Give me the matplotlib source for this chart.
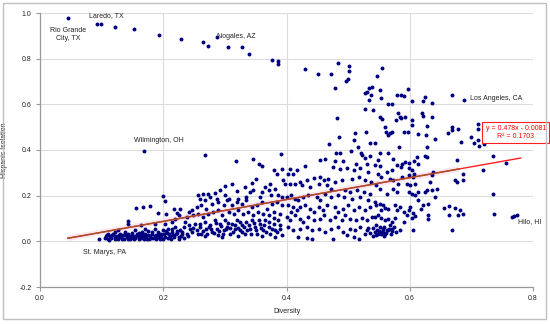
import matplotlib
matplotlib.use("Agg")
import matplotlib.pyplot as plt
from matplotlib.patches import Rectangle

plt.rcParams['font.family'] = ['Liberation Sans', 'DejaVu Sans']

# (diversity, hispanic isolation), grouped by area
top_arc = [(0.046,0.977),(0.092,0.954),(0.099,0.954),(0.122,0.940),(0.153,0.928),(0.193,0.903),
           (0.229,0.884),(0.265,0.871),(0.272,0.855),(0.287,0.893),(0.305,0.851),(0.328,0.851),
           (0.339,0.822),(0.377,0.795),(0.386,0.789),(0.386,0.776)]

mid_outliers = [(0.169,0.394),(0.268,0.380),(0.318,0.350),(0.345,0.359),(0.391,0.381)]

upper_cloud = [(0.430,0.753),(0.451,0.731),(0.472,0.731),(0.484,0.779),(0.501,0.766),(0.501,0.748),
               (0.479,0.670),(0.497,0.700),(0.500,0.713),(0.555,0.757),(0.547,0.722),(0.527,0.648),
               (0.531,0.656),(0.534,0.670),(0.539,0.678),(0.537,0.639),(0.534,0.617),(0.552,0.661),
               (0.553,0.626),(0.527,0.578),(0.540,0.573),(0.579,0.639),(0.586,0.639),(0.591,0.635),
               (0.597,0.665),(0.604,0.613),(0.565,0.600),(0.571,0.600),(0.622,0.613),(0.625,0.630),
               (0.636,0.608),(0.669,0.639),(0.688,0.621),(0.581,0.560),(0.584,0.543),(0.578,0.530),
               (0.586,0.538),(0.592,0.543),(0.552,0.543),(0.555,0.534),(0.482,0.538),(0.620,0.560),
               (0.622,0.547),(0.636,0.543),(0.604,0.530),(0.604,0.508),(0.560,0.499),(0.561,0.481),
               (0.565,0.464),(0.568,0.473),(0.571,0.477),(0.591,0.481),(0.597,0.477),(0.628,0.503),
               (0.613,0.468),(0.626,0.464),(0.628,0.411),(0.641,0.446),(0.485,0.455),(0.469,0.425),
               (0.511,0.473),(0.529,0.477),(0.510,0.442),(0.536,0.429),(0.544,0.429),(0.516,0.411),
               (0.662,0.473),(0.669,0.499),(0.669,0.486),(0.678,0.490),(0.711,0.516),(0.711,0.490),
               (0.699,0.455),(0.704,0.429),(0.711,0.442),(0.712,0.416),(0.720,0.425),(0.683,0.433),
               (0.583,0.411),(0.552,0.389),(0.480,0.385),(0.487,0.385),(0.505,0.394),(0.521,0.385),
               (0.523,0.376)]

far_right = [(0.735,0.372),(0.756,0.341),(0.719,0.311),(0.686,0.293),(0.735,0.206),(0.678,0.114),
             (0.737,0.118),(0.766,0.105),(0.769,0.109),(0.774,0.114)]

right_lower = [(0.565,0.387),(0.549,0.355),(0.544,0.333),(0.552,0.328),(0.573,0.362),(0.579,0.333),
               (0.587,0.340),(0.592,0.347),(0.598,0.343),(0.607,0.352),(0.611,0.369),(0.613,0.340),
               (0.624,0.372),(0.628,0.369),(0.598,0.322),(0.603,0.311),(0.586,0.325),(0.571,0.314),
               (0.563,0.303),(0.676,0.357),(0.549,0.296),(0.554,0.282),(0.568,0.274),(0.573,0.270),
               (0.587,0.282),(0.598,0.289),(0.606,0.282),(0.607,0.293),(0.638,0.303),(0.636,0.292),
               (0.595,0.252),(0.600,0.245),(0.609,0.249),(0.633,0.260),(0.673,0.267),(0.676,0.260),
               (0.687,0.270),(0.546,0.245),(0.552,0.230),(0.563,0.209),(0.573,0.230),(0.579,0.216),
               (0.581,0.252),(0.598,0.216),(0.603,0.209),(0.609,0.201),(0.614,0.216),(0.625,0.216),
               (0.628,0.223),(0.636,0.223),(0.644,0.230),(0.641,0.194),(0.614,0.179),(0.622,0.158),
               (0.619,0.143),(0.630,0.162),(0.655,0.147),(0.663,0.153),(0.673,0.147),(0.682,0.136),
               (0.544,0.172),(0.546,0.158),(0.552,0.165),(0.557,0.158),(0.560,0.147),(0.554,0.136),
               (0.565,0.143),(0.576,0.158),(0.579,0.136),(0.584,0.150),(0.590,0.128),(0.598,0.136),
               (0.600,0.150),(0.606,0.124),(0.595,0.114),(0.603,0.103),(0.609,0.109),(0.590,0.085),
               (0.584,0.051),(0.544,0.106),(0.549,0.114),(0.554,0.103),(0.560,0.092),(0.565,0.099),
               (0.571,0.085),(0.576,0.103),(0.546,0.070),(0.552,0.063),(0.557,0.055),(0.563,0.048),
               (0.568,0.070),(0.571,0.055),(0.544,0.041),(0.549,0.034),(0.554,0.041),(0.560,0.031),
               (0.565,0.048),(0.606,0.051),(0.630,0.099),(0.630,0.114),(0.668,0.051),(0.687,0.121),
               (0.663,0.114),(0.541,0.058),(0.547,0.050),(0.550,0.045),(0.553,0.030),(0.556,0.040),
               (0.558,0.062),(0.562,0.038),(0.566,0.055),(0.569,0.030),(0.572,0.045),(0.575,0.062),
               (0.578,0.040),(0.545,0.028),(0.559,0.024),(0.536,0.035),(0.532,0.060),(0.528,0.030)]

centre = [(0.527,0.366),(0.536,0.372),(0.479,0.352),(0.492,0.352),(0.513,0.340),(0.530,0.340),
          (0.430,0.328),(0.454,0.355),(0.463,0.362),(0.475,0.325),(0.487,0.318),(0.498,0.322),
          (0.509,0.314),(0.519,0.322),(0.533,0.303),(0.406,0.318),(0.417,0.314),(0.402,0.293),
          (0.410,0.296),(0.422,0.260),(0.433,0.267),(0.444,0.279),(0.454,0.282),(0.461,0.270),
          (0.468,0.274),(0.479,0.260),(0.490,0.267),(0.506,0.274),(0.517,0.282),(0.527,0.267),
          (0.537,0.260),(0.398,0.252),(0.406,0.252),(0.414,0.249),(0.425,0.245),(0.438,0.238),
          (0.452,0.252),(0.465,0.245),(0.473,0.230),(0.495,0.226),(0.503,0.216),(0.514,0.223),
          (0.525,0.216),(0.536,0.209),(0.400,0.194),(0.408,0.201),(0.414,0.187),(0.419,0.179),
          (0.427,0.194),(0.435,0.201),(0.449,0.194),(0.454,0.179),(0.463,0.209),(0.473,0.194),
          (0.484,0.201),(0.494,0.194),(0.506,0.187),(0.519,0.194),(0.533,0.179),(0.403,0.158),
          (0.411,0.150),(0.408,0.128),(0.417,0.136),(0.422,0.150),(0.430,0.158),(0.438,0.143),
          (0.444,0.128),(0.452,0.150),(0.460,0.136),(0.465,0.158),(0.479,0.150),(0.484,0.128),
          (0.492,0.143),(0.500,0.158),(0.509,0.136),(0.517,0.150),(0.527,0.136),(0.536,0.150),
          (0.400,0.106),(0.406,0.092),(0.414,0.114),(0.422,0.099),(0.427,0.085),(0.435,0.106),
          (0.444,0.092),(0.454,0.099),(0.461,0.114),(0.471,0.092),(0.479,0.106),(0.490,0.092),
          (0.495,0.114),(0.503,0.099),(0.512,0.092),(0.522,0.103),(0.530,0.092),(0.538,0.106),
          (0.403,0.063),(0.411,0.048),(0.422,0.055),(0.433,0.063),(0.441,0.048),(0.452,0.055),
          (0.463,0.041),(0.473,0.055),(0.484,0.063),(0.492,0.041),(0.503,0.055),(0.511,0.048),
          (0.519,0.063),(0.530,0.048),(0.419,0.019),(0.433,0.016),(0.441,0.012),(0.476,0.012),
          (0.498,0.026),(0.509,0.019),(0.517,0.012),(0.541,0.022)]

centre_left = [(0.350,0.271),(0.344,0.257),(0.355,0.340),(0.361,0.328),(0.380,0.314),(0.384,0.296),
               (0.392,0.318),(0.311,0.249),(0.300,0.242),(0.320,0.220),(0.340,0.216),(0.346,0.226),
               (0.360,0.216),(0.371,0.223),(0.381,0.230),(0.284,0.213),(0.292,0.226),(0.265,0.209),
               (0.273,0.209),(0.257,0.201),(0.395,0.267),(0.373,0.252),(0.365,0.238),(0.333,0.238),
               (0.335,0.194),(0.322,0.187),(0.357,0.194),(0.375,0.201),(0.387,0.201),(0.392,0.194),
               (0.300,0.201),(0.306,0.187),(0.287,0.187),(0.276,0.194),(0.268,0.179),(0.260,0.187),
               (0.241,0.128),(0.246,0.136),(0.254,0.150),(0.262,0.158),(0.270,0.143),(0.279,0.165),
               (0.289,0.172),(0.298,0.158),(0.303,0.179),(0.311,0.158),(0.319,0.172),(0.327,0.165),
               (0.335,0.179),(0.344,0.150),(0.352,0.158),(0.360,0.172),(0.368,0.143),(0.376,0.165),
               (0.384,0.172),(0.392,0.158),(0.238,0.106),(0.249,0.114),(0.257,0.121),(0.265,0.106),
               (0.273,0.121),(0.281,0.128),(0.289,0.136),(0.295,0.114),(0.306,0.128),(0.314,0.121),
               (0.322,0.136),(0.330,0.121),(0.338,0.128),(0.346,0.114),(0.354,0.128),(0.362,0.121),
               (0.371,0.114),(0.379,0.128),(0.390,0.121),(0.235,0.085),(0.241,0.070),(0.243,0.055),
               (0.246,0.041),(0.238,0.034),(0.252,0.077),(0.254,0.048),(0.260,0.063),(0.262,0.034),
               (0.268,0.085),(0.270,0.055),(0.276,0.070),(0.279,0.041),(0.284,0.092),(0.287,0.055),
               (0.289,0.026),(0.292,0.077),(0.298,0.048),(0.300,0.092),(0.303,0.063),(0.308,0.034),
               (0.311,0.077),(0.316,0.055),(0.319,0.092),(0.325,0.048),(0.327,0.070),(0.333,0.034),
               (0.335,0.085),(0.341,0.055),(0.344,0.092),(0.349,0.063),(0.352,0.034),(0.357,0.077),
               (0.362,0.048),(0.365,0.092),(0.371,0.063),(0.373,0.034),(0.379,0.077),(0.381,0.048),
               (0.387,0.092),(0.390,0.055),(0.392,0.026),(0.295,0.019),(0.268,0.022),(0.322,0.022),
               (0.360,0.022),(0.381,0.019),(0.240,0.022),(0.248,0.060),(0.256,0.030),(0.259,0.075),
               (0.264,0.045),(0.271,0.030),(0.274,0.062),(0.278,0.052),(0.283,0.035),(0.286,0.080),
               (0.291,0.045),(0.294,0.065),(0.297,0.030),(0.302,0.052),(0.305,0.080),(0.309,0.060),
               (0.313,0.040),(0.317,0.070),(0.321,0.058),(0.324,0.085),(0.328,0.040),(0.331,0.062),
               (0.336,0.050),(0.339,0.072),(0.343,0.030),(0.347,0.080),(0.351,0.048),(0.355,0.095),
               (0.358,0.058),(0.363,0.070),(0.367,0.040),(0.372,0.085),(0.376,0.052),(0.380,0.100),
               (0.385,0.040),(0.389,0.070)]

left_band = [(0.095,0.009),(0.106,0.016),(0.108,0.026),(0.111,0.012),(0.114,0.022),(0.116,0.016),
             (0.119,0.031),(0.122,0.010),(0.124,0.022),(0.127,0.016),(0.130,0.034),(0.133,0.012),
             (0.135,0.026),(0.138,0.041),(0.141,0.019),(0.143,0.031),(0.146,0.012),(0.149,0.036),
             (0.151,0.022),(0.154,0.016),(0.157,0.034),(0.160,0.012),(0.162,0.026),(0.165,0.041),
             (0.168,0.019),(0.170,0.031),(0.173,0.012),(0.176,0.045),(0.179,0.022),(0.181,0.034),
             (0.184,0.016),(0.187,0.055),(0.189,0.026),(0.192,0.041),(0.195,0.012),(0.197,0.031),
             (0.200,0.048),(0.203,0.019),(0.206,0.036),(0.208,0.055),(0.211,0.022),(0.214,0.041),
             (0.216,0.026),(0.219,0.063),(0.222,0.036),(0.225,0.019),(0.227,0.048),(0.230,0.031),
             (0.233,0.063),(0.142,0.088),(0.143,0.074),(0.164,0.073),(0.122,0.041),(0.127,0.048),
             (0.111,0.034),(0.154,0.048),(0.170,0.055),(0.187,0.077),(0.203,0.077),(0.214,0.085),
             (0.219,0.099),(0.225,0.114),(0.107,0.022),(0.112,0.007),(0.117,0.026),(0.121,0.019),
             (0.126,0.010),(0.128,0.026),(0.131,0.019),(0.137,0.010),(0.139,0.026),(0.142,0.010),
             (0.144,0.022),(0.148,0.016),(0.150,0.026),(0.153,0.010),(0.155,0.025),(0.159,0.022),
             (0.161,0.036),(0.164,0.016),(0.166,0.026),(0.169,0.010),(0.172,0.022),(0.175,0.026),
             (0.177,0.010),(0.180,0.016),(0.182,0.041),(0.186,0.022),(0.188,0.010),(0.191,0.019),
             (0.193,0.031),(0.196,0.022),(0.199,0.010),(0.202,0.034),(0.204,0.045),(0.207,0.016),
             (0.209,0.031),(0.213,0.010),(0.215,0.055),(0.218,0.019),(0.220,0.031),(0.223,0.045),
             (0.226,0.010),(0.229,0.022),(0.231,0.041),(0.234,0.016)]

left_outliers = [(0.156,0.144),(0.167,0.149),(0.178,0.153),(0.192,0.123),(0.200,0.197),(0.203,0.175),
                 (0.204,0.118),(0.217,0.140),(0.227,0.140),(0.222,0.123)]

points = (top_arc + mid_outliers + upper_cloud + far_right + right_lower + centre
          + centre_left + left_band + left_outliers)
diversity = [p[0] for p in points]
isolation = [p[1] for p in points]

# fitted trend shown on the chart
slope, intercept = 0.478, -0.0081
fit_x = [0.045, 0.78]
fit_x_dark = [0.045, 0.68]

labels = [("Rio Grande\nCity, TX", 0.045, 0.906, 'center'),
          ("Laredo, TX", 0.079, 0.987, 'left'),
          ("Nogales, AZ", 0.288, 0.895, 'left'),
          ("Wilmington, OH", 0.153, 0.440, 'left'),
          ("Los Angeles, CA", 0.698, 0.624, 'left'),
          ("Hilo, HI", 0.776, 0.085, 'left'),
          ("St. Marys, PA", 0.070, -0.050, 'left')]

fig = plt.figure(figsize=(5.5, 3.24), dpi=100)
fig.patches.append(Rectangle((3/550, 5/324), 543/550, 316/324, transform=fig.transFigure,
                             fill=False, ec='#c0c0c0', lw=1))
ax = fig.add_axes([40/550, 37/324, 493/550, 274/324])

ax.plot(fit_x_dark, [slope*x + intercept for x in fit_x_dark], color='#fde6ef', lw=4,
        solid_capstyle='butt', zorder=2)
ax.scatter(diversity, isolation, s=8, color='#000080', linewidths=0, zorder=3)
ax.plot(fit_x, [slope*x + intercept for x in fit_x], color='#ff2020', lw=1.0, zorder=4)
ax.plot(fit_x_dark, [slope*x + intercept for x in fit_x_dark], color='#a0522d', lw=1.0, zorder=5)

for txt, x, y, ha in labels:
    ax.text(x, y, txt, fontsize=5, ha=ha, va='center', color='#222222', zorder=6)

ax.text(0.772, 0.477, "y = 0.478x - 0.0081\nR² = 0.1703", fontsize=5, ha='center', va='center',
        color='#ff0000', clip_on=False, zorder=7,
        bbox=dict(boxstyle='square,pad=0.45', fc='white', ec='#ff2020', lw=0.8))

ax.set_xlim(0, 0.8)
ax.set_ylim(-0.2, 1.0)
ax.set_xticks([0.0, 0.2, 0.4, 0.6, 0.8])
ax.set_yticks([-0.2, 0.0, 0.2, 0.4, 0.6, 0.8, 1.0])
ax.set_xticklabels(['0.0', '0.2', '0.4', '0.6', '0.8'])
ax.set_yticklabels(['-0.2', '0.0', '0.2', '0.4', '0.6', '0.8', '1.0'])
ax.tick_params(labelsize=5, colors='#999999', labelcolor='#222222', length=3, width=0.8, pad=3)
ax.grid(True, color='#dcdcdc', lw=0.8)
ax.set_axisbelow(True)
for side in ['top', 'right']:
    ax.spines[side].set_visible(False)
for side in ['left', 'bottom']:
    ax.spines[side].set_color('#999999')
    ax.spines[side].set_linewidth(0.9)

ax.set_xlabel('Diversity', fontsize=5, color='#222222', labelpad=4)
ax.set_ylabel('Hispanic Isolation', fontsize=5, color='#222222', labelpad=8)

fig.savefig('out.png', dpi=100)
